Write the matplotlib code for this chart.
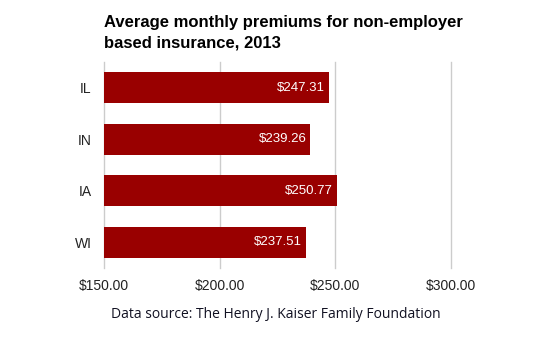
import matplotlib.pyplot as plt

states = ["IL", "IN", "IA", "WI"]
premiums = [247.31, 239.26, 250.77, 237.51]
xticks = [150, 200, 250, 300]

plt.rcParams['font.family'] = ['Liberation Sans', 'DejaVu Sans']

fig = plt.figure(figsize=(5.55, 3.45), dpi=100)
ax = fig.add_axes([104/555, 1-268/345, 347/555, 206/345])

base = 150
ax.barh(range(len(states)), [p - base for p in premiums], left=base,
        height=0.6, color='#990000', zorder=2)
for i, p in enumerate(premiums):
    ax.text(p - 1.8, i, f"${p:.2f}", color='white', ha='right', va='center',
            fontsize=9.5, zorder=3)

ax.set_xlim(150, 300)
ax.set_ylim(3.5, -0.5)
ax.set_yticks(range(len(states)))
ax.set_yticklabels(states, fontsize=10, color='#222222')
ax.set_xticks(xticks)
ax.set_xticklabels([f"${t:.2f}" for t in xticks], fontsize=10, color='#222222')
ax.tick_params(length=0)
ax.tick_params(axis='y', pad=9)
ax.tick_params(axis='x', pad=8)
ax.grid(axis='x', color='#cccccc', linewidth=1, zorder=0)
for gl in ax.get_xgridlines():
    gl.set_clip_on(False)
for s in ax.spines.values():
    s.set_visible(False)

fig.text(104/555, 1-33/345, "Average monthly premiums for non-employer\nbased insurance, 2013",
         fontsize=12, fontweight='bold', ha='left', va='center', linespacing=1.45)
fig.text(276/555, 1-314/345, "Data source: The Henry J. Kaiser Family Foundation",
         fontsize=10, family=['Open Sans', 'DejaVu Sans'], color='#111122',
         ha='center', va='center')

fig.savefig("out.png", dpi=100)
